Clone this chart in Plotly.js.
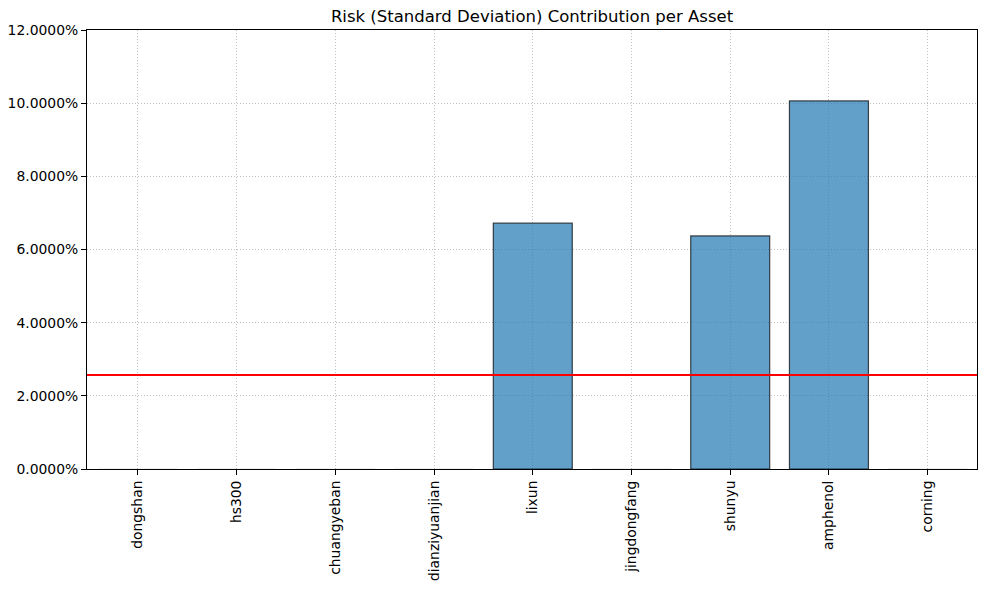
<!DOCTYPE html>
<html><head><meta charset="utf-8">
<script src="https://cdn.plot.ly/plotly-3.0.1.min.js"></script>
<style>html,body{margin:0;padding:0;background:#fff}#c{width:991px;height:589px}</style>
</head><body><div id="c"></div>
<script>
const assets = ["dongshan","hs300","chuangyeban","dianziyuanjian","lixun","jingdongfang","shunyu","amphenol","corning"];
const riskContrib = [0, 0, 0, 0, 0.0672, 0, 0.0637, 0.1006, 0];
const yTicks = [0, 0.02, 0.04, 0.06, 0.08, 0.10, 0.12];
const meanContrib = riskContrib.reduce((a,b)=>a+b,0)/riskContrib.length;

const idx = assets.map((_,i)=>i);
const edgeColors = riskContrib.map(v => v > 0 ? 'rgba(0,0,0,0.7)' : 'rgba(0,0,0,0.12)');
const traces = [{
  type:'bar', x: idx, y: riskContrib, width: 0.8,
  marker:{color:'rgba(31,119,180,0.7)', line:{color:edgeColors, width:1.2}},
  hoverinfo:'x+y'
}];
const layout = {
  width:991, height:589,
  margin:{l:87, r:14, t:30, b:120},
  paper_bgcolor:'#fff', plot_bgcolor:'#fff',
  font:{family:'DejaVu Sans', size:13.9, color:'#000'},
  title:{text:'Risk (Standard Deviation) Contribution per Asset', xref:'paper', x:0.5, xanchor:'center', y:0.973, yanchor:'middle', font:{size:16.5}},
  showlegend:false,
  bargap:0.2,
  xaxis:{range:[-0.516, 8.5], tickmode:'array', tickvals:idx, ticktext:assets, tickangle:-90,
    showgrid:true, gridcolor:'#b0b0b0', griddash:'1px,2px', gridwidth:0.8,
    showline:true, linecolor:'#000', linewidth:1, mirror:true,
    ticks:'outside', ticklen:5, tickcolor:'#000', zeroline:false, fixedrange:true},
  yaxis:{range:[0,0.12], tickmode:'array', tickvals:yTicks, tickformat:'.4%',
    showgrid:true, gridcolor:'#b0b0b0', griddash:'1px,2px', gridwidth:0.8,
    showline:true, linecolor:'#000', linewidth:1, mirror:true,
    ticks:'outside', ticklen:5, tickcolor:'#000', zeroline:false, fixedrange:true},
  shapes:[{type:'line', xref:'paper', x0:0, x1:1, yref:'y', y0:meanContrib, y1:meanContrib,
    line:{color:'#ff0000', width:2}}]
};
Plotly.newPlot('c', traces, layout, {displayModeBar:false, staticPlot:true});
</script></body></html>
